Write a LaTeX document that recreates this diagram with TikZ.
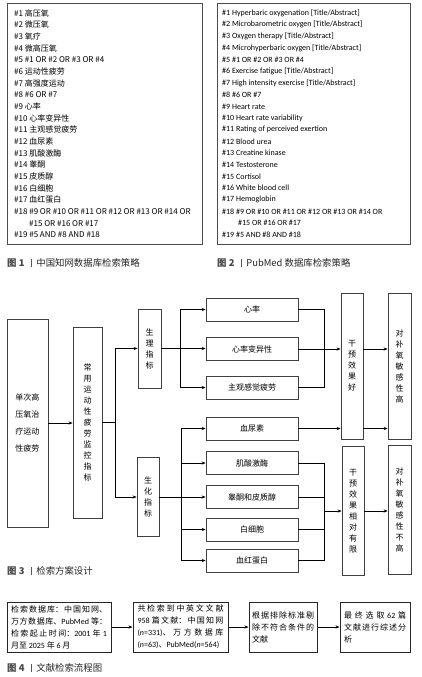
\documentclass[tikz,border=0pt]{standalone}
\usepackage{fontspec}
\usepackage{tikz}
\usetikzlibrary{arrows.meta, calc}
\setmainfont{Carlito}
\newfontfamily\cjk{Noto Sans CJK SC}
\newfontfamily\lat{Carlito}
\definecolor{capred}{RGB}{204,36,40}
\definecolor{capgray}{RGB}{70,70,70}
\XeTeXlinebreaklocale "zh"
\XeTeXlinebreakskip=0pt plus 3pt

\begin{document}
\begin{tikzpicture}[x=1pt, y=-1pt,
  lbox/.style={draw=black!70, line width=0.9pt},
  lst/.style={anchor=west, inner sep=0pt, font={\cjk\fontsize{8}{10}\selectfont}},
  lstl/.style={anchor=west, inner sep=0pt, font={\lat\fontsize{8}{10}\selectfont}},
  capt/.style={anchor=west, inner sep=0pt, text=black!85, font={\cjk\fontsize{9.4}{11}\selectfont}},
  blk/.style={draw=black!75, line width=0.8pt, inner sep=0pt, align=center, font={\cjk\fontsize{8}{11}\selectfont}},
  fbox/.style={draw=black!85, line width=1pt, minimum height=50, inner ysep=2pt, align=justify, font={\cjk\fontsize{8}{12}\selectfont}},
  ln/.style={line width=0.6pt},
  arr/.style={line width=0.6pt, -{Stealth[length=4pt,width=3.2pt]}}]
\useasboundingbox (0,0) rectangle (421,677);

\draw[lbox] (7,3) rectangle (202,244);
\foreach \entry [count=\i] in {{\#1 高压氧}, {\#2 微压氧}, {\#3 氧疗}, {\#4 微高压氧},
  {\#5 \#1 OR \#2 OR \#3 OR \#4}, {\#6 运动性疲劳}, {\#7 高强度运动}, {\#8 \#6 OR \#7},
  {\#9 心率}, {\#10 心率变异性}, {\#11 主观感觉疲劳}, {\#12 血尿素}, {\#13 肌酸激酶},
  {\#14 睾酮}, {\#15 皮质醇}, {\#16 白细胞}, {\#17 血红蛋白},
  {\#18 \#9 OR \#10 OR \#11 OR \#12 OR \#13 OR \#14 OR}, {\hspace*{15pt}\#15 OR \#16 OR \#17},
  {\#19 \#5 AND \#8 AND \#18}}
  \node[lst] (p\i) at (14, 13+11.68*\i-11.68) {\entry};
\node[capt] (T1) at (7,263) {{\color{capgray}\bfseries 图 1}\hspace{7pt}{\color{capred}\rule[-1pt]{0.9pt}{8.5pt}}\hspace{4pt}中国知网数据库检索策略};

\draw[lbox] (217,3) rectangle (410,244);
\foreach \entry [count=\i] in {{\#1 Hyperbaric oxygenation [Title/Abstract]},
  {\#2 Microbarometric oxygen [Title/Abstract]}, {\#3 Oxygen therapy [Title/Abstract]},
  {\#4 Microhyperbaric oxygen [Title/Abstract]}, {\#5 \#1 OR \#2 OR \#3 OR \#4},
  {\#6 Exercise fatigue [Title/Abstract]}, {\#7 High intensity exercise [Title/Abstract]},
  {\#8 \#6 OR \#7}, {\#9 Heart rate}, {\#10 Heart rate variability},
  {\#11 Rating of perceived exertion}, {\#12 Blood urea}, {\#13 Creatine kinase},
  {\#14 Testosterone}, {\#15 Cortisol}, {\#16 White blood cell}, {\#17 Hemoglobin},
  {\#18 \#9 OR \#10 OR \#11 OR \#12 OR \#13 OR \#14 OR}, {\hspace*{16pt}\#15 OR \#16 OR \#17},
  {\#19 \#5 AND \#8 AND \#18}}
  \node[lstl] (q\i) at (222, 13+11.68*\i-11.68) {\entry};
\node[capt] (T2) at (217,263) {{\color{capgray}\bfseries 图 2}\hspace{7pt}{\color{capred}\rule[-1pt]{0.9pt}{8.5pt}}\hspace{4pt}PubMed 数据库检索策略};

\node[blk, minimum width=41, minimum height=208, font={\cjk\fontsize{8}{17}\selectfont}] (A) at (27.5,423) {单次高\\压氧治\\疗运动\\性疲劳};
\node[blk, minimum width=29, minimum height=191] (B) at (87.5,422.5) {常\\用\\运\\动\\性\\疲\\劳\\监\\控\\指\\标};
\node[blk, minimum width=23, minimum height=79] (C1) at (149.5,348.5) {生\\理\\指\\标};
\node[blk, minimum width=22, minimum height=79] (C2) at (148,497) {生\\化\\指\\标};
\foreach \y/\txt [count=\i] in {309.5/心率, 349/心率变异性, 387.5/主观感觉疲劳, 428.5/血尿素,
  463/肌酸激酶, 497/睾酮和皮质醇, 529.5/白细胞, 560.5/血红蛋白}
  \node[blk, minimum width=92, minimum height=23] (D\i) at (252,\y) {\txt};
\node[blk, minimum width=22, minimum height=146] (E1) at (352,366) {干\\预\\效\\果\\好};
\node[blk, minimum width=23, minimum height=146] (F1) at (399.5,366) {对\\补\\氧\\敏\\感\\性\\高};
\node[blk, minimum width=22, minimum height=129] (E2) at (353,511) {干\\预\\效\\果\\相\\对\\有\\限};
\node[blk, minimum width=23, minimum height=129] (F2) at (399.5,510) {对\\补\\氧\\敏\\感\\性\\不\\高};

\draw[arr] (A.east) -- (A.east -| B.west);
\coordinate (s0) at ($(B.east)+(13,0)$);
\draw[ln] (B.east) -- (s0);
\draw[arr] (s0) |- (C1.west);
\draw[arr] (s0) |- (C2.west);
\coordinate (s1) at ($(C1.east)+(19,0)$);
\draw[arr] (C1.east) -- (C1.east -| D2.west);
\draw[arr] (s1) |- (D1.west);
\draw[arr] (s1) |- (D3.west);
\coordinate (s2) at ($(C2.east)+(22,0)$);
\draw[arr] (C2.east) -- (C2.east -| D6.west);
\foreach \k in {4,5,7,8}
  \draw[arr] (s2) |- (D\k.west);
\draw[ln] (D1.east) -- ++(26,0) |- (D3.east);
\draw[arr] (D2.east) -- (D2.east -| E1.west);
\draw[arr] (D4.east) -- (D4.east -| E1.west);
\draw[arr] (E1.east |- D2) -- (F1.west |- D2);
\draw[arr] (E1.east |- D4) -- (F1.west |- D4);
\draw[ln] (D5.east) -- ++(26,0) |- (D8.east);
\foreach \k in {6,7}
  \draw[ln] (D\k.east) -- ++(26,0);
\coordinate (r2) at ($(D5.east)+(26,0)$);
\draw[arr] (r2 |- E2) -- (E2.west);
\draw[arr] (E2.east) -- (E2.east -| F2.west);
\node[capt] (T3) at (7,571) {{\color{capgray}\bfseries 图 3}\hspace{7pt}{\color{capred}\rule[-1pt]{0.9pt}{8.5pt}}\hspace{4pt}检索方案设计};

\node[fbox, text width=96, inner xsep=4pt] (G1) at (59,627) {检索数据库：中国知网、\linebreak 万方数据库、{\lat PubMed} 等：\linebreak 检索起止时间：{\lat 2001} 年 {\lat 1}\linebreak 月至 {\lat 2025} 年 {\lat 6} 月};
\node[fbox, text width=86, inner xsep=4.5pt] (G2) at (180.5,627) {共检索到中英文文献\linebreak {\lat 958} 篇文献：中国知网\linebreak {\lat(\textit{n}=331)}、万方数据库\linebreak {\lat(\textit{n}=63)}、{\lat PubMed(\textit{n}=564)}};
\node[fbox, text width=62, inner xsep=3pt] (G3) at (283,627) {根据排除标准剔\linebreak 除不符合条件的\linebreak 文献};
\node[fbox, text width=62, inner xsep=4pt] (G4) at (375,627) {最终选取 {\lat 62} 篇\linebreak 文献进行综述分\linebreak 析};
\draw[arr] (G1.east) -- (G2.west);
\draw[arr] (G2.east) -- (G3.west);
\draw[arr] (G3.east) -- (G4.west);
\node[capt] (T4) at (7,668) {{\color{capgray}\bfseries 图 4}\hspace{7pt}{\color{capred}\rule[-1pt]{0.9pt}{8.5pt}}\hspace{4pt}文献检索流程图};
\end{tikzpicture}
\end{document}
